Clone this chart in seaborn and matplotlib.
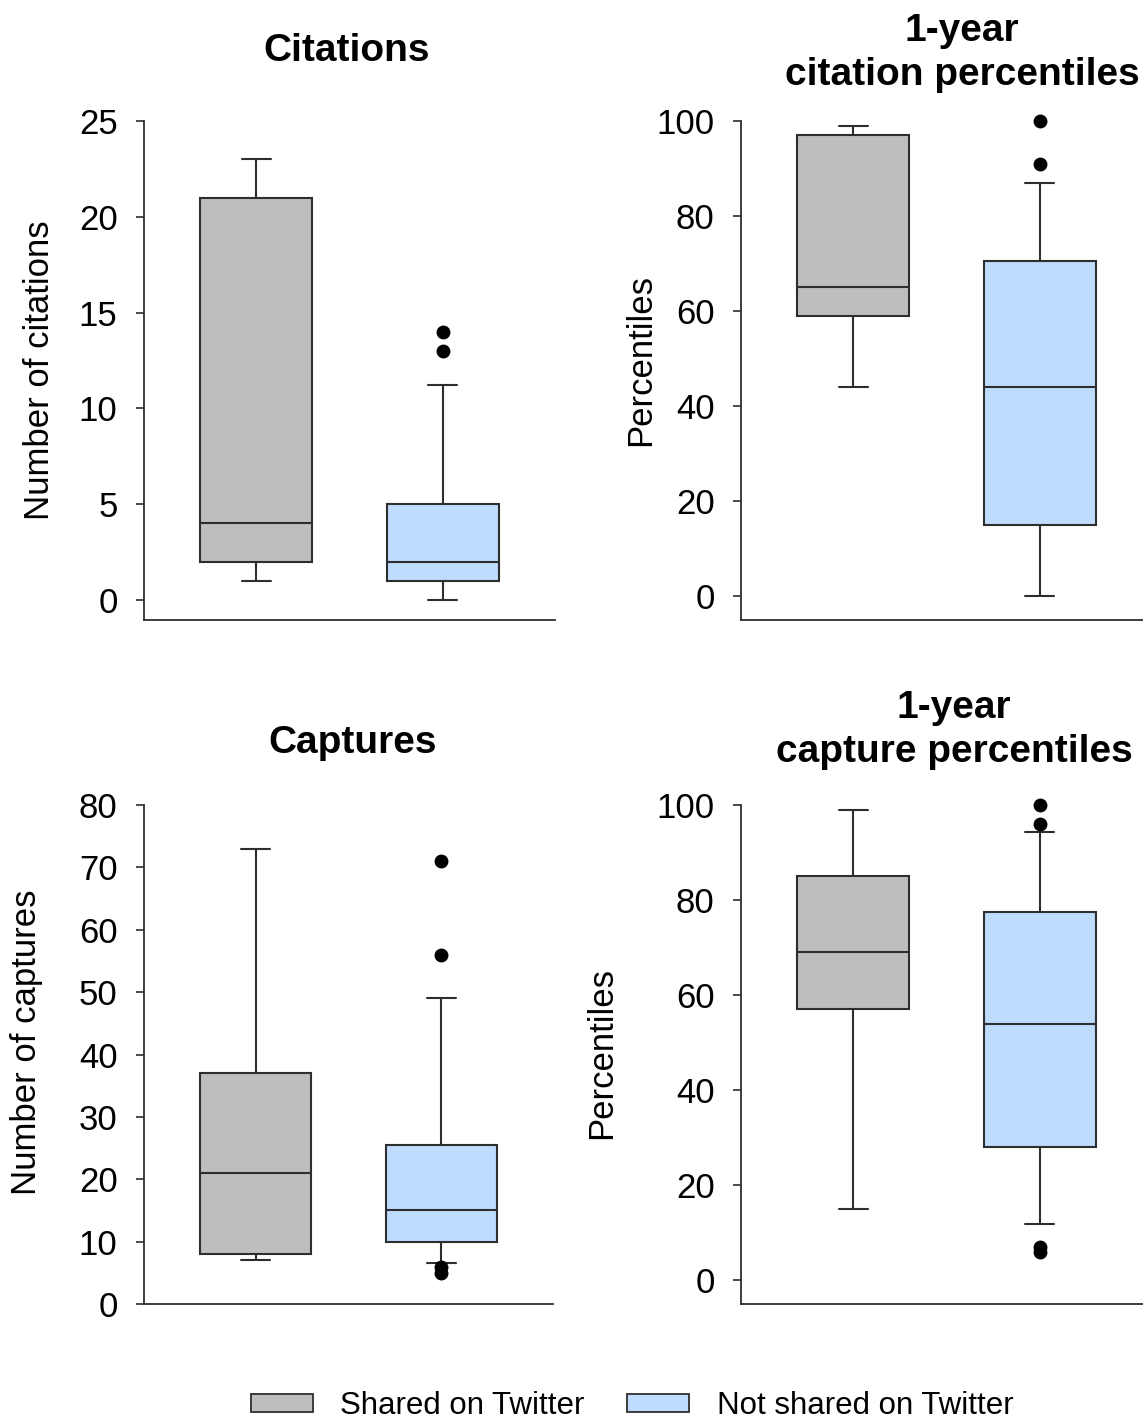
import matplotlib
matplotlib.use("Agg")
import matplotlib.pyplot as plt
from matplotlib.patches import Patch
import numpy as np
import pandas as pd
import seaborn as sns

# ---------------- data (five-number summaries) ----------------
groups = ["Shared on Twitter", "Not shared on Twitter"]

# [lower whisker, Q1, median, Q3, upper whisker]
cit_shared = [1.0, 2.0, 4.0, 21.0, 23.0]
cit_not = [0.0, 1.0, 2.0, 5.0, 11.2]
cit_not_out = [13.0, 14.0]

citp_shared = [44.0, 59.0, 65.0, 97.0, 99.0]
citp_not = [0.0, 15.0, 44.0, 70.5, 87.0]
citp_not_out = [91.0, 100.0]

cap_shared = [7.0, 8.0, 21.0, 37.0, 73.0]
cap_not = [6.6, 10.0, 15.0, 25.5, 49.0]
cap_not_out = [5.0, 6.0, 56.0, 71.0]

capp_shared = [15.0, 57.0, 69.0, 85.0, 99.0]
capp_not = [11.8, 28.0, 54.0, 77.5, 94.3]
capp_not_out = [6.0, 7.0, 96.0, 100.0]

titles = ["Citations", "1-year\ncitation percentiles", "Captures", "1-year\ncapture percentiles"]
ylabels = ["Number of citations", "Percentiles", "Number of captures", "Percentiles"]
yticks = [[0, 5, 10, 15, 20, 25], [0, 20, 40, 60, 80, 100],
          [0, 10, 20, 30, 40, 50, 60, 70, 80], [0, 20, 40, 60, 80, 100]]

colors = ["#bebebe", "#bfdbfe"]
line_col = "#2e2e2e"

# ---------------- style ----------------
sns.set_style("ticks")
plt.rcParams["font.family"] = ["Liberation Sans", "DejaVu Sans"]
plt.rcParams["text.color"] = "black"
plt.rcParams["axes.labelcolor"] = "black"

W, H = 1143, 1419
fig = plt.figure(figsize=(W / 100, H / 100), dpi=100)


def axpos(l, t, r, b):
    return [l / W, 1 - b / H, (r - l) / W, (b - t) / H]


axes = [
    fig.add_axes(axpos(144, 121, 555, 620)),
    fig.add_axes(axpos(741, 121, 1152, 620)),
    fig.add_axes(axpos(144, 805, 553, 1304)),
    fig.add_axes(axpos(741, 805, 1152, 1304)),
]
ylims = [(-1.04, 25), (-5.05, 100), (0, 80), (-5.05, 100)]

panels = [
    (cit_shared, cit_not, cit_not_out),
    (citp_shared, citp_not, citp_not_out),
    (cap_shared, cap_not, cap_not_out),
    (capp_shared, capp_not, capp_not_out),
]

for ax, (s, n, out), yt, yl in zip(axes, panels, yticks, ylims):
    df = pd.DataFrame({
        "group": [groups[0]] * len(s) + [groups[1]] * len(n),
        "value": list(s) + list(n),
    })
    sns.boxplot(data=df, x="group", y="value", hue="group", order=groups,
                hue_order=groups, palette=colors, saturation=1, width=0.6,
                whis=(0, 100), linecolor=line_col, linewidth=1.5, fliersize=0,
                legend=False, capwidths=0.155, ax=ax)
    dfo = pd.DataFrame({"group": [groups[1]] * len(out), "value": out})
    sns.stripplot(data=dfo, x="group", y="value", order=groups, jitter=False,
                  color="black", size=10, linewidth=0, ax=ax, zorder=5)
    for coll in ax.collections:
        coll.set_clip_on(False)
    ax.set_xlim(-0.6, 1.6)
    ax.set_ylim(*yl)
    ax.set_yticks(yt)
    ax.set_xticks([])
    ax.set_xlabel("")
    ax.set_ylabel("")
    for sp in ["top", "right"]:
        ax.spines[sp].set_visible(False)
    for sp in ["left", "bottom"]:
        ax.spines[sp].set_linewidth(1.3)
        ax.spines[sp].set_color(line_col)
    ax.tick_params(axis="y", length=6, width=1.2, pad=13, labelsize=25,
                   color=line_col, labelcolor="black")


def fx(px):
    return px / W


def fy(py):
    return 1 - py / H


# titles
title_pos = [(347, 51), (962, 53), (353, 743), (954, 730)]
for t, (x, y) in zip(titles, title_pos):
    fig.text(fx(x), fy(y), t, ha="center", va="center", fontsize=28,
             fontweight="bold", linespacing=1.27, color="black")

# y labels
ylab_pos = [(40, 370), (641, 360), (27, 1042), (602, 1053)]
for t, (x, y) in zip(ylabels, ylab_pos):
    fig.text(fx(x), fy(y), t, ha="center", va="center", rotation=90,
             fontsize=25, color="black")

# legend
handles = [Patch(facecolor=c, edgecolor=line_col, linewidth=1.3) for c in colors]
fig.legend(handles, groups, loc="center", bbox_to_anchor=(fx(632), fy(1406)),
           ncol=2, frameon=False, fontsize=22.5, handlelength=2.0,
           handleheight=0.5, handletextpad=0.87, columnspacing=1.35)

fig.savefig("out.png", dpi=100)
